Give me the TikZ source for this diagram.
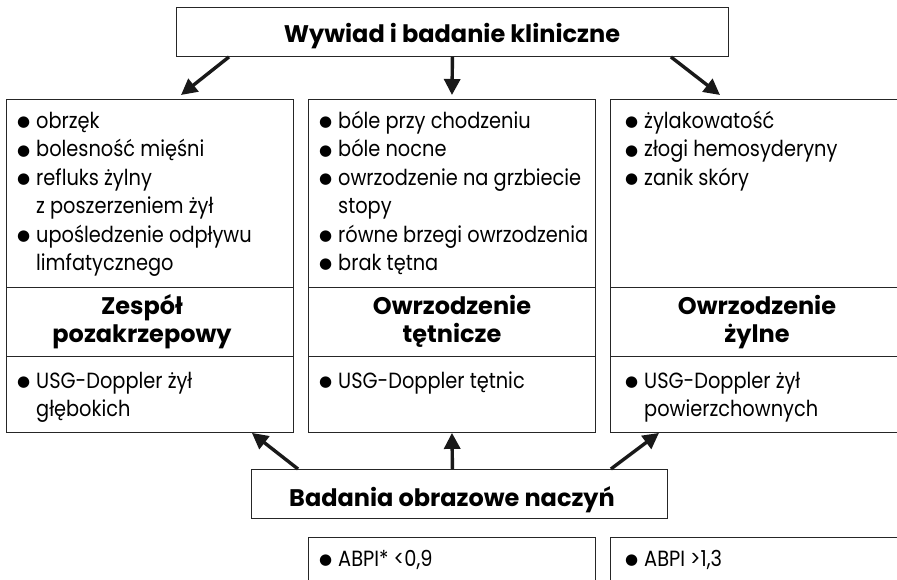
\documentclass[tikz,border=0pt]{standalone}
\usepackage{fontspec}
\setmainfont[FakeStretch=0.88]{Poppins}
\newfontfamily\hfont{Poppins}
\newfontfamily\symf{DejaVu Sans}
\usetikzlibrary{arrows.meta,calc}
\newcommand\bul{\llap{\raisebox{1.5pt}{\fontsize{15}{15}\symf ●}\hspace{6pt}}}
\tikzset{
  box/.style={draw=black!85, line width=0.9pt, inner sep=0pt, anchor=north west},
  txt/.style={anchor=base west, inner sep=0pt, font=\fontsize{22}{26}\selectfont},
  ttl/.style={anchor=base, inner sep=0pt, font=\hfont\bfseries\fontsize{24}{28}\selectfont},
  arr/.style={line width=3.4pt, draw=black!90, -{Triangle[length=16pt,width=16pt]}},
}
\begin{document}
\begin{tikzpicture}[x=1pt,y=-1pt]
\useasboundingbox (0,0) rectangle (897,579);
% boxes
\node[box, minimum width=552pt, minimum height=49pt] (top) at (176,7) {};
\node[box, minimum width=287pt, minimum height=188pt] (L1) at (6,99) {};
\node[box, minimum width=287pt, minimum height=69pt] (L2) at (6,287) {};
\node[box, minimum width=287pt, minimum height=76pt] (L3) at (6,356) {};
\node[box, minimum width=287pt, minimum height=188pt] (M1) at (308,99) {};
\node[box, minimum width=287pt, minimum height=69pt] (M2) at (308,287) {};
\node[box, minimum width=287pt, minimum height=76pt] (M3) at (308,356) {};
\node[box, minimum width=294pt, minimum height=188pt] (R1) at (610,99) {};
\node[box, minimum width=294pt, minimum height=69pt] (R2) at (610,287) {};
\node[box, minimum width=294pt, minimum height=76pt] (R3) at (610,356) {};
\node[box, minimum width=416pt, minimum height=49pt] (bot) at (251,469) {};
\node[box, minimum width=287pt, minimum height=60pt] (A1) at (308,537) {};
\node[box, minimum width=294pt, minimum height=60pt] (A2) at (610,537) {};
% headings
\node[ttl] (tTop) at (452,42) {Wywiad i badanie kliniczne};
\node[ttl] (tBot) at (452,506) {Badania obrazowe naczyń};
\node[ttl] (tL1) at (142,314) {Zespół};
\node[ttl] (tL2) at (142,342) {pozakrzepowy};
\node[ttl] (tM1) at (452,314) {Owrzodzenie};
\node[ttl] (tM2) at (452,342) {tętnicze};
\node[ttl] (tR1) at (757,314) {Owrzodzenie};
\node[ttl] (tR2) at (757,342) {żylne};
% left list
\node[txt] (la) at (36,128) {\bul obrzęk};
\node[txt] (lb) at (36,156.5) {\bul bolesność mięśni};
\node[txt] (lc) at (36,185) {\bul refluks żylny};
\node[txt] (ld) at (36,213.5) {z poszerzeniem żył};
\node[txt] (le) at (36,242) {\bul upośledzenie odpływu};
\node[txt] (lf) at (36,270) {limfatycznego};
% middle list
\node[txt] (ma) at (338,128) {\bul bóle przy chodzeniu};
\node[txt] (mb) at (338,156.5) {\bul bóle nocne};
\node[txt] (mc) at (338,185) {\bul owrzodzenie na grzbiecie};
\node[txt] (md) at (338,213.5) {stopy};
\node[txt] (me) at (338,242) {\bul równe brzegi owrzodzenia};
\node[txt] (mf) at (338,270) {\bul brak tętna};
% right list
\node[txt] (ra) at (644,128) {\bul żylakowatość};
\node[txt] (rb) at (644,156.5) {\bul złogi hemosyderyny};
\node[txt] (rc) at (644,185) {\bul zanik skóry};
% doppler
\node[txt] (da) at (36,388) {\bul USG-Doppler żył};
\node[txt] (db) at (36,416) {głębokich};
\node[txt] (dc) at (338,388) {\bul USG-Doppler tętnic};
\node[txt] (dd) at (644,388) {\bul USG-Doppler żył};
\node[txt] (de) at (644,416) {powierzchownych};
% ABPI
\node[txt] (aa) at (338,566) {\bul ABPI* <0,9};
\node[txt] (ab) at (644,566) {\bul ABPI >1,3};
% arrows
\draw[arr] ([xshift=53pt]top.south west) -- ([xshift=175pt,yshift=4pt]L1.north west);
\draw[arr] (top.south) -- ([yshift=4pt]M1.north);
\draw[arr] ([xshift=-58pt]top.south east) -- ([xshift=110pt,yshift=4pt]R1.north west);
\draw[arr] ([xshift=47pt]bot.north west) -- ([xshift=-42pt]L3.south east);
\draw[arr] ([xshift=-7pt]bot.north) -- (M3.south);
\draw[arr] ([xshift=-57pt]bot.north east) -- ([xshift=49pt]R3.south west);
\end{tikzpicture}
\end{document}
